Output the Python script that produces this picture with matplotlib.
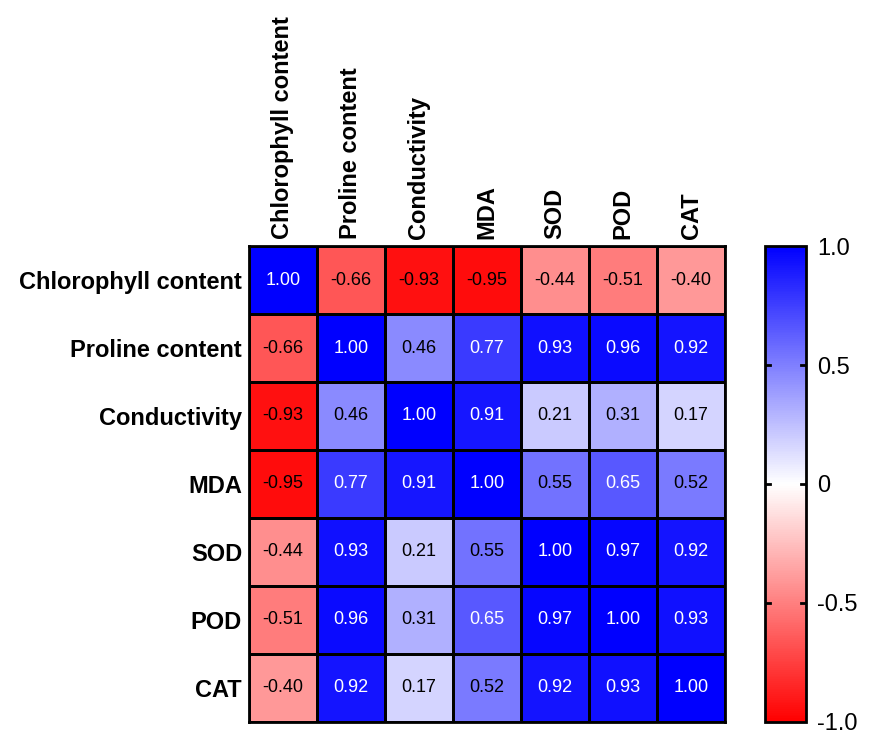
import numpy as np
import matplotlib
matplotlib.use("Agg")
import matplotlib.pyplot as plt
from matplotlib.colors import LinearSegmentedColormap

plt.rcParams['font.family'] = ['Liberation Sans', 'DejaVu Sans']

labels = ["Chlorophyll content", "Proline content", "Conductivity", "MDA", "SOD", "POD", "CAT"]
corr = np.array([
    [1.00, -0.66, -0.93, -0.95, -0.44, -0.51, -0.40],
    [-0.66, 1.00, 0.46, 0.77, 0.93, 0.96, 0.92],
    [-0.93, 0.46, 1.00, 0.91, 0.21, 0.31, 0.17],
    [-0.95, 0.77, 0.91, 1.00, 0.55, 0.65, 0.52],
    [-0.44, 0.93, 0.21, 0.55, 1.00, 0.97, 0.92],
    [-0.51, 0.96, 0.31, 0.65, 0.97, 1.00, 0.93],
    [-0.40, 0.92, 0.17, 0.52, 0.92, 0.93, 1.00],
])
cbar_ticks = [-1.0, -0.5, 0, 0.5, 1.0]
cbar_labels = ["-1.0", "-0.5", "0", "0.5", "1.0"]

cmap = LinearSegmentedColormap.from_list("rwb", ["#ff0000", "#ffffff", "#0000ff"])

fig = plt.figure(figsize=(8.69, 7.35), dpi=100)
ax = fig.add_axes([0.2865, 0.0177, 0.5478, 0.6476])
cax = fig.add_axes([0.8803, 0.0177, 0.0472, 0.6476])

n = len(labels)
mesh = ax.pcolormesh(corr, cmap=cmap, vmin=-1, vmax=1, edgecolors="black", linewidth=1.0)
ax.set_xlim(0, n)
ax.set_ylim(n, 0)
ax.set_xticks(np.arange(n) + 0.5)
ax.set_yticks(np.arange(n) + 0.5)
ax.xaxis.tick_top()
ax.set_xticklabels(labels, rotation=90, fontsize=17, fontweight="bold")
ax.set_yticklabels(labels, fontsize=17, fontweight="bold")
ax.tick_params(length=0, pad=5)
for s in ax.spines.values():
    s.set_linewidth(2)

for i in range(n):
    for j in range(n):
        v = corr[i, j]
        ax.text(j + 0.5, i + 0.5, f"{v:.2f}", ha="center", va="center",
                fontsize=13, color="white" if v > 0.6 else "black")

cb = fig.colorbar(mesh, cax=cax)
cb.outline.set_linewidth(2)
cb.set_ticks(cbar_ticks)
cb.set_ticklabels(cbar_labels)
cax.tick_params(labelsize=17, length=0, pad=8)
for t in [-0.5, 0, 0.5]:
    cax.plot([0, 0.12], [t, t], color="black", lw=2, transform=cax.get_yaxis_transform())
    cax.plot([0.88, 1], [t, t], color="black", lw=2, transform=cax.get_yaxis_transform())

fig.savefig("out.png", dpi=100)
